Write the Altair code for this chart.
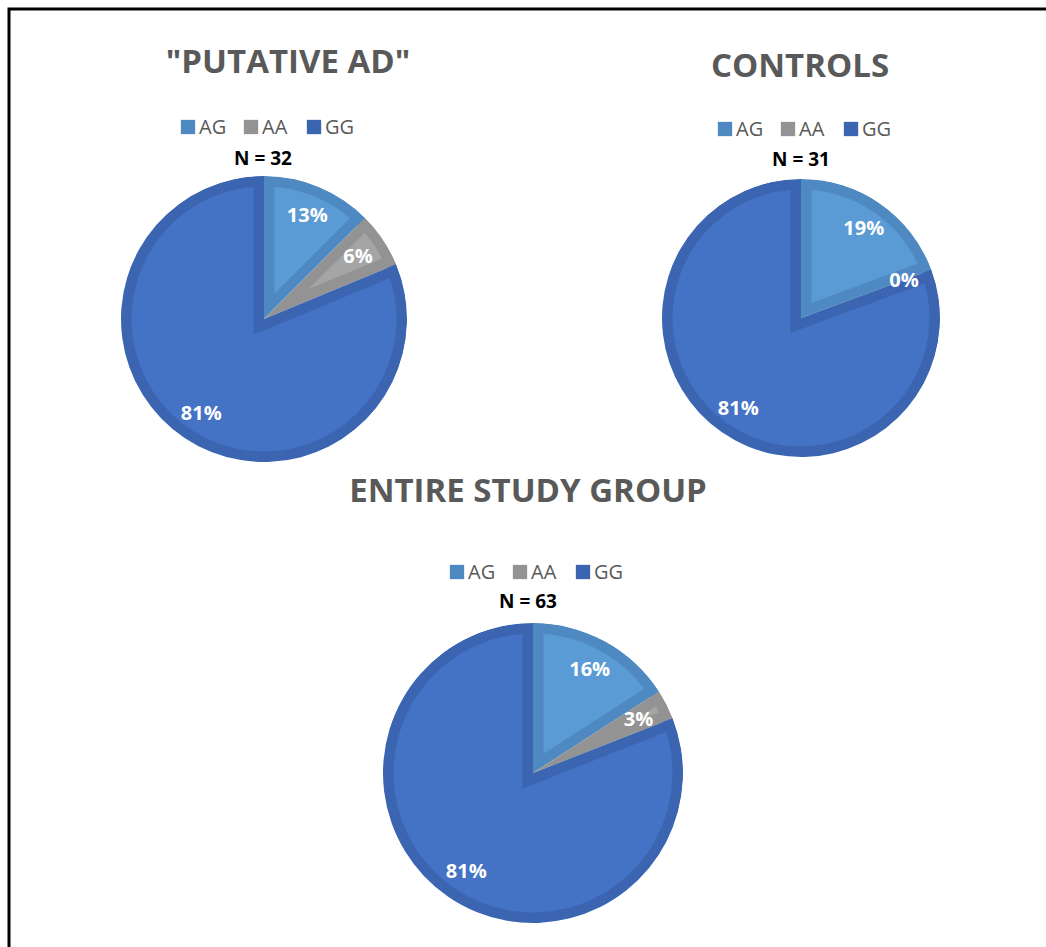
import math

import altair as alt
import pandas as pd

# Genotype distribution per study group (counts; percentages are derived)
groups = ['"PUTATIVE AD"', "CONTROLS", "ENTIRE STUDY GROUP"]
genotypes = ["AG", "AA", "GG"]
putative_ad_counts = [4, 2, 26]
control_counts = [6, 0, 25]
entire_group_counts = [10, 2, 51]

# Slice fills and their darker inner borders
light_colors = ["#5B9BD5", "#A5A5A5", "#4472C4"]
dark_colors = ["#4E8AC1", "#939393", "#3C65B1"]

rows = []
for g, counts in zip(groups, [putative_ad_counts, control_counts, entire_group_counts]):
    for i, (gt, c) in enumerate(zip(genotypes, counts)):
        rows.append({"group": g, "genotype": gt, "order": i, "count": c})
df = pd.DataFrame(rows)

W, H = 1046, 947
BORDER = 10.5          # width of the darker band inside each slice
FONT = "Open Sans"
GREY = "#595959"

# Placement of each panel: pie centre and radius, title, legend and N label
panels = [
    dict(cx=264, cy=319, r=143, title_x=288, title_y=73, legend_y=127, n_x=263, n_y=165),
    dict(cx=801, cy=318, r=139, title_x=800, title_y=77, legend_y=129, n_x=801, n_y=166),
    dict(cx=533, cy=773, r=150, title_x=528, title_y=502, legend_y=572, n_x=528, n_y=608),
]

theta_scale = alt.Scale(domain=[0, 1], range=[0, 2 * math.pi])
light_scale = alt.Scale(domain=genotypes, range=light_colors)
dark_scale = alt.Scale(domain=genotypes, range=dark_colors)


def slices(group):
    """Rows of one group with start/end fractions of the pie."""
    return (
        alt.Chart(df)
        .transform_filter(alt.datum.group == group)
        .transform_joinaggregate(total="sum(count)")
        .transform_window(cum="sum(count)", sort=[alt.SortField("order")], frame=[None, 0])
        .transform_calculate(
            t1="datum.cum / datum.total",
            t0="(datum.cum - datum.count) / datum.total",
            frac="datum.count / datum.total",
        )
        .transform_calculate(mid="PI * (datum.t0 + datum.t1)")
    )


def theta_enc():
    return dict(
        theta=alt.Theta("t0:Q", scale=theta_scale, stack=None),
        theta2="t1:Q",
    )


pie_layers = []
text_layers = []
for group, p in zip(groups, panels):
    cx, cy, R, T = p["cx"], p["cy"], p["r"], BORDER
    base = slices(group)

    # full slices in the border colour
    outer = base.mark_arc(radius=R).encode(
        **theta_enc(),
        fill=alt.Fill("genotype:N", scale=dark_scale, legend=None),
        x=alt.value(cx),
        y=alt.value(cy),
    )

    # lighter core: same wedge, apex pushed along the bisector so the edges sit BORDER px inside
    core_r = math.sqrt((R - T) ** 2 - T ** 2)
    inner = (
        base.transform_filter("datum.count > 0")
        .transform_calculate(
            alpha="PI * datum.frac",
            d=f"{T} / sin(datum.alpha)",
            rin=f"{core_r} - {T} * cos(datum.alpha) / sin(datum.alpha) + 1",
            ox=f"{cx} + datum.d * sin(datum.mid)",
            oy=f"{cy} - datum.d * cos(datum.mid)",
        )
        .mark_arc()
        .encode(
            **theta_enc(),
            radius=alt.Radius("rin:Q", scale=None),
            x=alt.X("ox:Q", scale=None, axis=None),
            y=alt.Y("oy:Q", scale=None, axis=None),
            color=alt.Color("genotype:N", scale=light_scale, legend=None),
        )
    )

    # border band along the rim
    rim = base.mark_arc(radius=R, radius2=R - T).encode(
        **theta_enc(),
        fill=alt.Fill("genotype:N", scale=dark_scale, legend=None),
        x=alt.value(cx),
        y=alt.value(cy),
    )

    # background ring trimming the cores to the pie outline
    trim = base.mark_arc(radius=R + 32, radius2=R, color="white").encode(
        **theta_enc(),
        x=alt.value(cx),
        y=alt.value(cy),
    )
    pie_layers += [outer, inner, rim, trim]

    # percentage labels
    lr = 0.79 * R
    labels = (
        base.transform_calculate(
            lx=f"{cx} + {lr} * sin(datum.mid)",
            ly=f"{cy} - {lr} * cos(datum.mid)",
            label="format(datum.frac, '.0%')",
        )
        .mark_text(font=FONT, fontSize=20, fontWeight="bold", color="white", dy=7, baseline="alphabetic")
        .encode(
            x=alt.X("lx:Q", scale=None, axis=None),
            y=alt.Y("ly:Q", scale=None, axis=None),
            text="label:N",
        )
    )

    first = base.transform_filter("datum.order == 0")
    title = first.mark_text(
        font=FONT, fontSize=33, fontWeight="bold", color=GREY, baseline="alphabetic"
    ).encode(x=alt.value(p["title_x"]), y=alt.value(p["title_y"]), text="group:N")

    n_label = (
        first.transform_calculate(ntext="'N = ' + datum.total")
        .mark_text(font=FONT, fontSize=19, fontWeight="bold", color="black", baseline="alphabetic")
        .encode(x=alt.value(p["n_x"]), y=alt.value(p["n_y"]), text="ntext:N")
    )

    legend_base = base.transform_calculate(
        sx=f"{cx - 76} + datum.order * 63",
        tx=f"{cx - 65} + datum.order * 63",
    )
    legend_sq = legend_base.mark_square(size=205, opacity=1).encode(
        x=alt.X("sx:Q", scale=None, axis=None),
        y=alt.value(p["legend_y"]),
        fill=alt.Fill("genotype:N", scale=dark_scale, legend=None),
    )
    legend_txt = legend_base.mark_text(
        font=FONT, fontSize=20, color=GREY, align="left", baseline="alphabetic"
    ).encode(
        x=alt.X("tx:Q", scale=None, axis=None),
        y=alt.value(p["legend_y"] + 7),
        text="genotype:N",
    )
    text_layers += [labels, title, n_label, legend_sq, legend_txt]

frame = (
    alt.Chart(pd.DataFrame({"f": [0]}))
    .mark_rect(fillOpacity=0, stroke="black", strokeWidth=3)
    .encode(x=alt.value(9), y=alt.value(9), x2=alt.value(W + 20), y2=alt.value(H + 20))
)

chart = (
    alt.layer(*pie_layers, *text_layers, frame)
    .properties(width=W, height=H, padding=0, autosize="none", background="white")
    .configure_view(strokeWidth=0)
)

chart.save("out.html", embed_options={"renderer": "svg", "actions": False})
